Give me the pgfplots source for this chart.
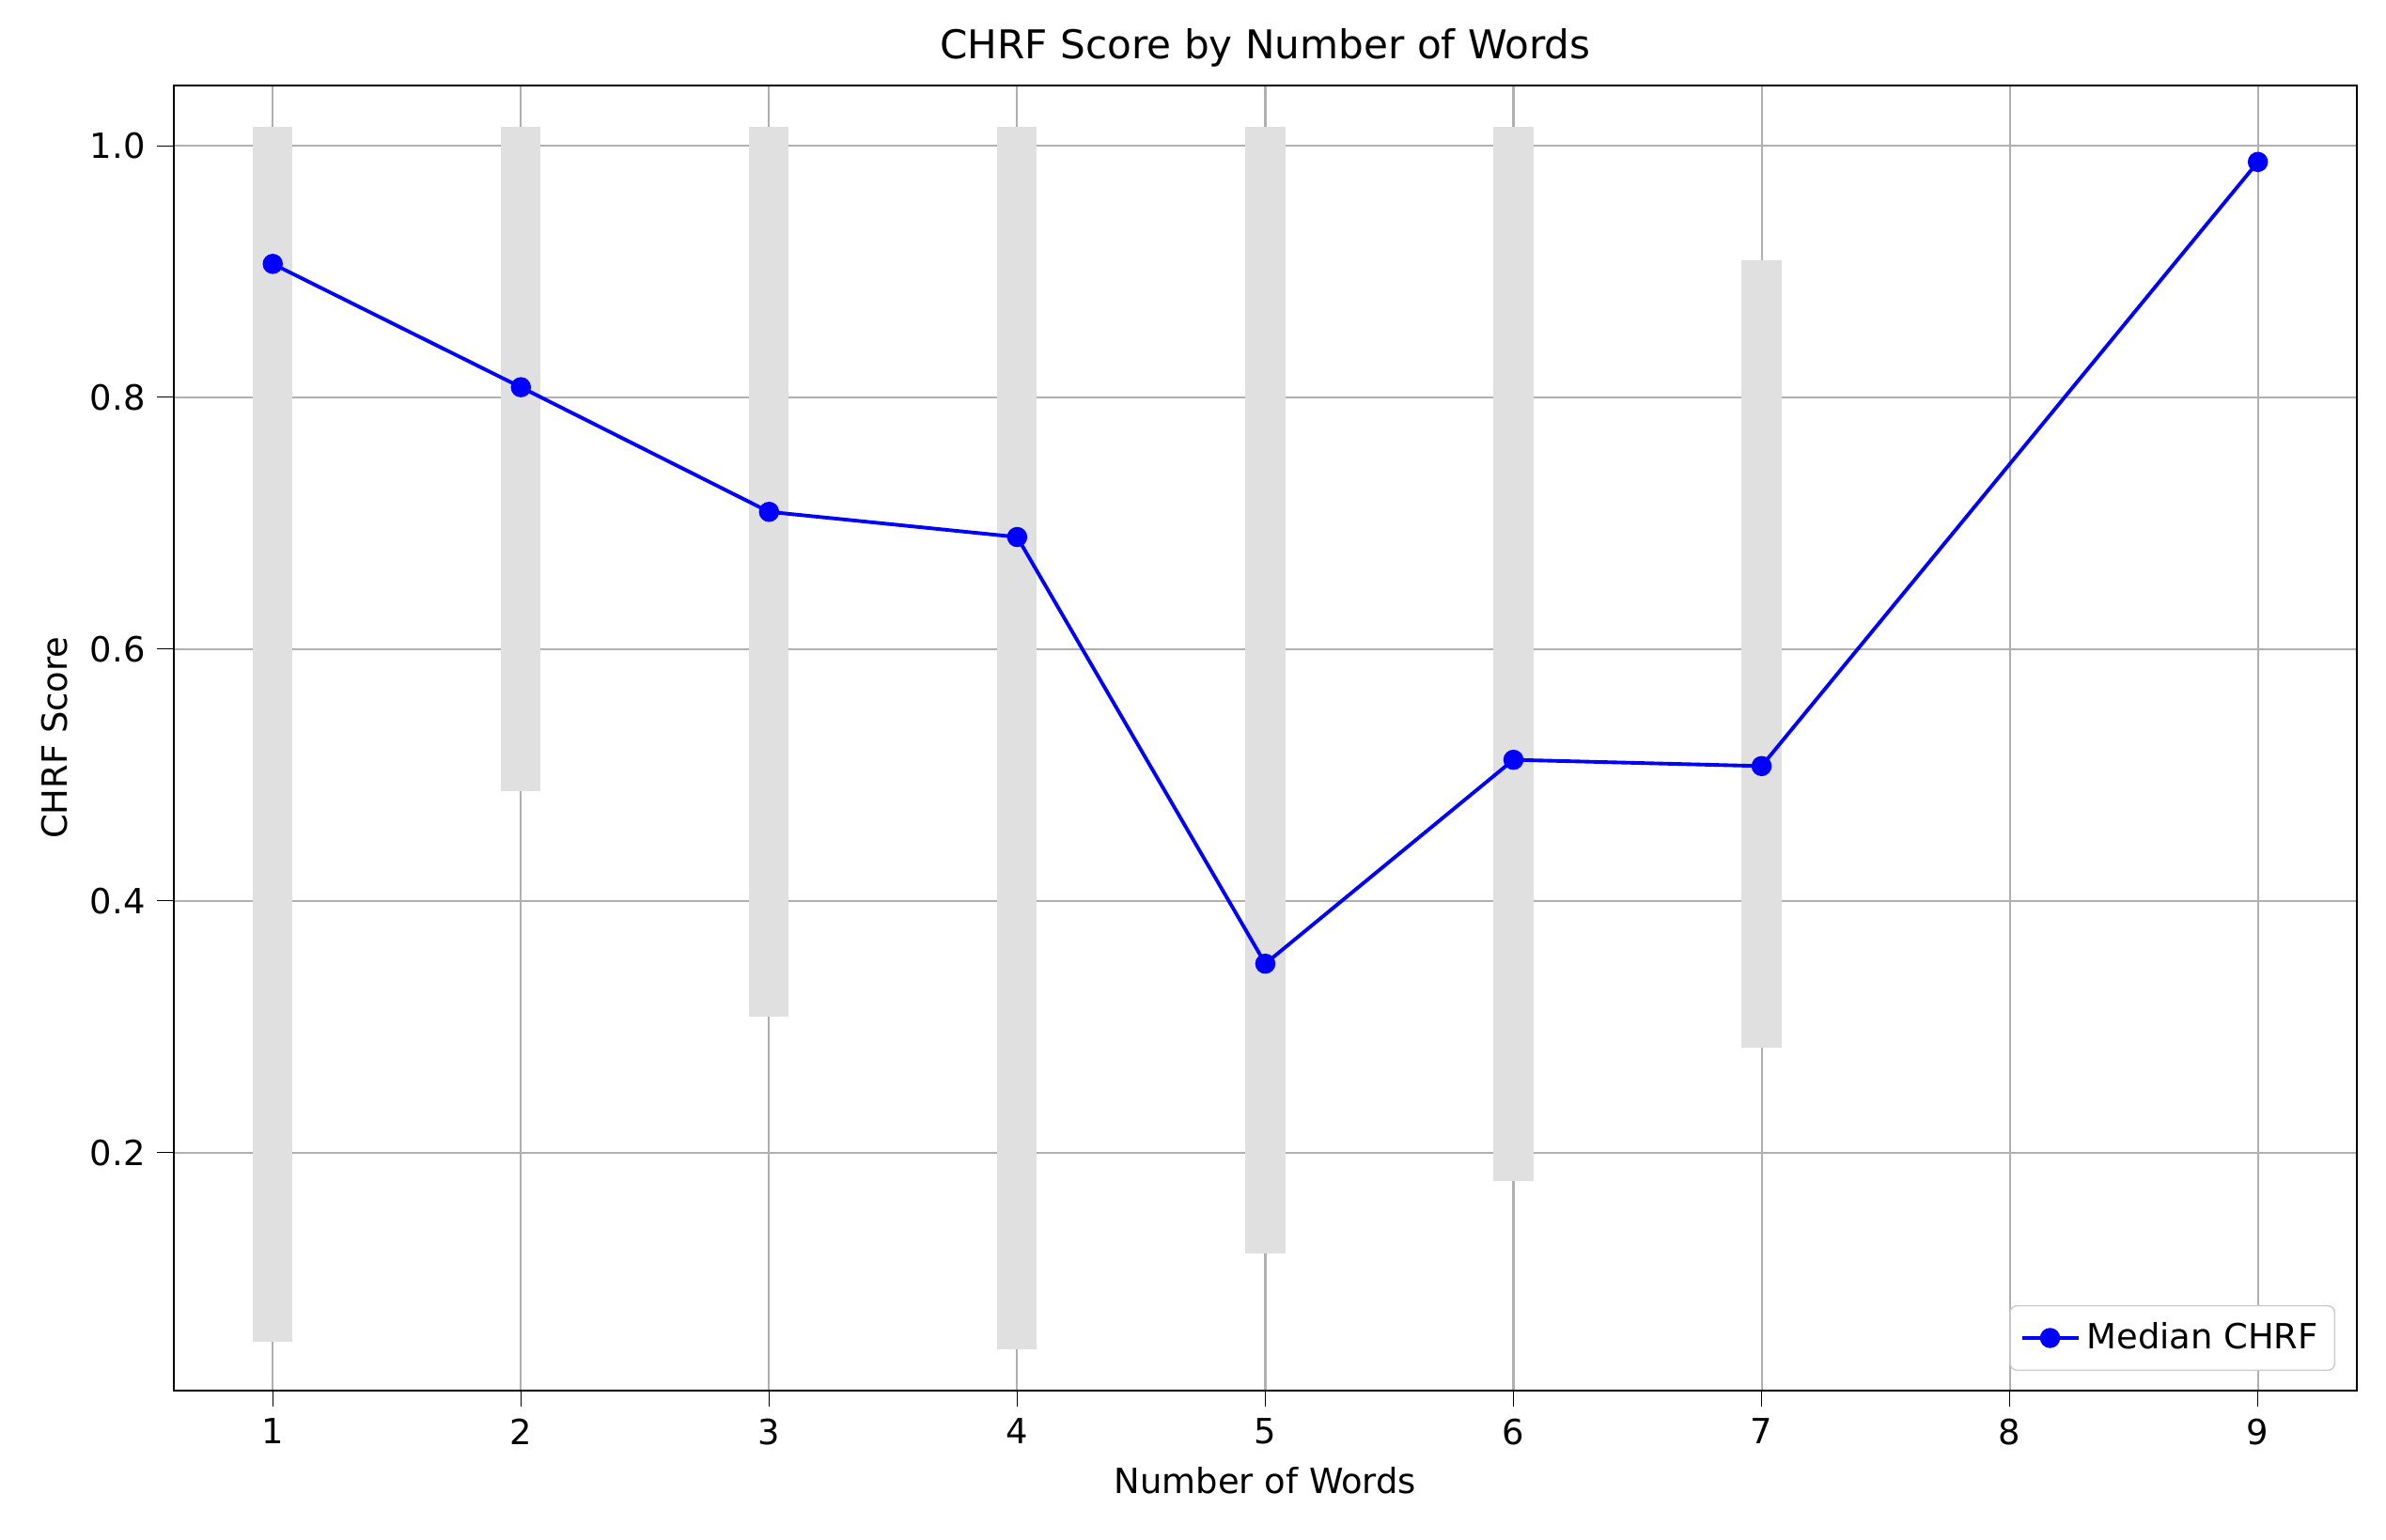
\documentclass[border=0pt]{standalone}
\usepackage{pgfplots}
\pgfplotsset{compat=1.18}
\usepackage{fontspec}
\setmainfont{DejaVu Sans}
\definecolor{barg}{HTML}{E0E0E0}
\definecolor{gridg}{HTML}{B0B0B0}
\begin{document}
\begin{tikzpicture}
\begin{axis}[
 scale only axis, width=9.15in, height=5.47in,
 xmin=0.6, xmax=9.4, ymin=0.011, ymax=1.048,
 xtick={1,...,9}, ytick={0.2,0.4,0.6,0.8,1.0},
 yticklabel style={/pgf/number format/.cd,fixed,fixed zerofill,precision=1},
 /pgf/number format/assume math mode=true,
 grid=major, major grid style={gridg, line width=0.6pt},
 axis line style={black, line width=0.6pt},
 tick style={black}, tick align=outside, major tick length=5pt,
 xtick pos=bottom, ytick pos=left,
 title={CHRF Score by Number of Words},
 title style={font=\fontsize{12}{14}\selectfont, yshift=-4pt},
 xlabel={Number of Words}, ylabel={CHRF Score},
 legend style={at={(0.99,0.015)}, anchor=south east, rounded corners=2pt, draw=gray!40, font=\fontsize{10.5}{12}\selectfont, inner sep=3pt},
 legend cell align=left,
 font=\fontsize{10.5}{12}\selectfont,
]
\addplot[barg, line width=12pt, forget plot] coordinates {(1,0.050) (1,1.015)};
\addplot[barg, line width=12pt, forget plot] coordinates {(2,0.487) (2,1.015)};
\addplot[barg, line width=12pt, forget plot] coordinates {(3,0.308) (3,1.015)};
\addplot[barg, line width=12pt, forget plot] coordinates {(4,0.044) (4,1.015)};
\addplot[barg, line width=12pt, forget plot] coordinates {(5,0.120) (5,1.015)};
\addplot[barg, line width=12pt, forget plot] coordinates {(6,0.177) (6,1.015)};
\addplot[barg, line width=12pt, forget plot] coordinates {(7,0.283) (7,0.909)};
\addplot[blue, line width=1.1pt, mark=*, mark size=2.5pt, mark options={fill=blue}] coordinates {
(1,0.906) (2,0.808) (3,0.709) (4,0.689) (5,0.350) (6,0.512) (7,0.507) (9,0.987)};
\addlegendentry{Median CHRF}
\end{axis}
\path (current axis.south west) ++(-0.727in,-0.625in) coordinate (a);
\path (current axis.north east) ++(0.121in,0.357in) coordinate (b);
\useasboundingbox (a) rectangle (b);
\end{tikzpicture}
\end{document}
